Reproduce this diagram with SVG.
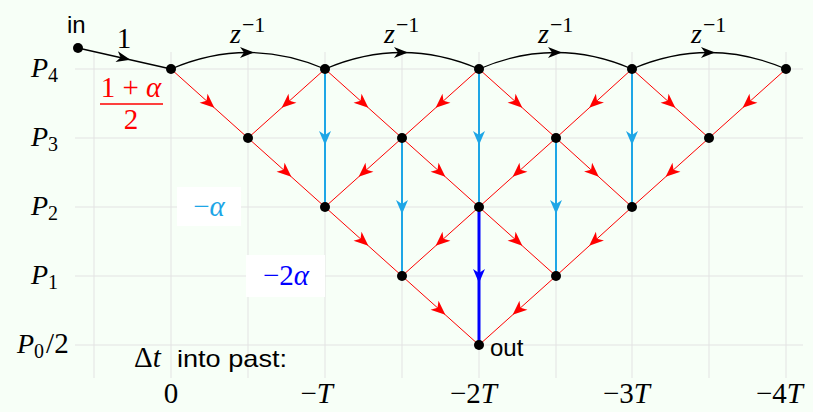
<svg xmlns="http://www.w3.org/2000/svg" width="813" height="412" viewBox="0 0 813 412">
<style>
.grid line{stroke:#e3e3e3;stroke-width:1}
.red{stroke:#ff0000;stroke-width:1;fill:none;marker-mid:url(#ar)}
.cy{stroke:#1ea6e6;stroke-width:2;fill:none;marker-mid:url(#ac)}
.bl{stroke:#0000ff;stroke-width:3;fill:none;marker-mid:url(#ab)}
.bk{stroke:#000;stroke-width:1.3;fill:none;marker-mid:url(#ak)}
.m{font-family:"Liberation Serif","DejaVu Serif",serif;font-size:28px;font-style:italic}
.n{font-family:"Liberation Serif","DejaVu Serif",serif;font-size:29px}
.s{font-family:"Liberation Sans",Arial,sans-serif;font-size:24px}
.sub{font-family:"Liberation Serif","DejaVu Serif",serif;font-style:normal;font-size:20px}
.sup{font-family:"Liberation Serif","DejaVu Serif",serif;font-style:normal;font-size:22px}
.dot{fill:#000}
</style>
<defs>
<marker id="ar" viewBox="-15 -8 25 16" markerWidth="25" markerHeight="16" refX="0" refY="0" orient="auto" markerUnits="userSpaceOnUse"><path d="M6.5,0 L-8,-6 L-4,0 L-8,6 Z" fill="#ff0000"/></marker>
<marker id="ac" viewBox="-15 -8 25 16" markerWidth="25" markerHeight="16" refX="0" refY="0" orient="auto" markerUnits="userSpaceOnUse"><path d="M7,0 L-7,-6 L-3,0 L-7,6 Z" fill="#1ea6e6"/></marker>
<marker id="ab" viewBox="-15 -8 25 16" markerWidth="25" markerHeight="16" refX="0" refY="0" orient="auto" markerUnits="userSpaceOnUse"><path d="M7,0 L-7,-6 L-3,0 L-7,6 Z" fill="#0000ff"/></marker>
<marker id="ak" viewBox="-15 -8 25 16" markerWidth="25" markerHeight="16" refX="0" refY="0" orient="auto" markerUnits="userSpaceOnUse"><path d="M6,0 L-8,-5.5 L-4,0 L-8,5.5 Z" fill="#000"/></marker>
</defs>
<rect width="813" height="412" fill="#f7fff7"/>
<g class="grid">
<line x1="75" y1="69" x2="803" y2="69"/>
<line x1="75" y1="138" x2="803" y2="138"/>
<line x1="75" y1="207" x2="803" y2="207"/>
<line x1="75" y1="276" x2="803" y2="276"/>
<line x1="75" y1="345" x2="803" y2="345"/>
<line x1="94" y1="52" x2="94" y2="378"/>
<line x1="171" y1="52" x2="171" y2="378"/>
<line x1="248" y1="52" x2="248" y2="378"/>
<line x1="325" y1="52" x2="325" y2="378"/>
<line x1="402" y1="52" x2="402" y2="378"/>
<line x1="479" y1="52" x2="479" y2="378"/>
<line x1="556" y1="52" x2="556" y2="378"/>
<line x1="632" y1="52" x2="632" y2="378"/>
<line x1="709" y1="52" x2="709" y2="378"/>
<line x1="786" y1="52" x2="786" y2="378"/>
</g>
<g id="labels-gain">
<rect x="177" y="187" width="64" height="39" fill="#fff"/>
<text x="209" y="216" class="n" fill="#1ea6e6" text-anchor="middle">−<tspan font-style="italic">α</tspan></text>
<rect x="246" y="255" width="79" height="42" fill="#fff"/>
<text x="286" y="285" class="n" fill="#0000ff" text-anchor="middle">−2<tspan font-style="italic">α</tspan></text>
<text x="131" y="97" class="n" fill="#ff0000" text-anchor="middle">1 + <tspan font-style="italic">α</tspan></text>
<line x1="100" y1="104" x2="163" y2="104" stroke="#ff0000" stroke-width="1.3"/>
<text x="131" y="129" class="n" fill="#ff0000" text-anchor="middle">2</text>
</g>
<g id="connectors">
<path class="bk" d="M78,48 L124.5,58.5 L171,69"/>
<path class="bk" d="M171,69 Q209.5,52.5 248,52.5 Q286.5,52.5 325,69"/>
<path class="bk" d="M325,69 Q363.5,52.5 402,52.5 Q440.5,52.5 479,69"/>
<path class="bk" d="M479,69 Q517.5,52.5 556,52.5 Q594,52.5 632,69"/>
<path class="bk" d="M632,69 Q670.5,52.5 709,52.5 Q747.5,52.5 786,69"/>
<path class="red" d="M171,69 L209.5,103.5 L248,138"/>
<path class="red" d="M325,69 L286.5,103.5 L248,138"/>
<path class="red" d="M325,69 L363.5,103.5 L402,138"/>
<path class="red" d="M479,69 L440.5,103.5 L402,138"/>
<path class="red" d="M479,69 L517.5,103.5 L556,138"/>
<path class="red" d="M632,69 L594,103.5 L556,138"/>
<path class="red" d="M632,69 L670.5,103.5 L709,138"/>
<path class="red" d="M786,69 L747.5,103.5 L709,138"/>
<path class="red" d="M248,138 L286.5,172.5 L325,207"/>
<path class="red" d="M402,138 L363.5,172.5 L325,207"/>
<path class="red" d="M402,138 L440.5,172.5 L479,207"/>
<path class="red" d="M556,138 L517.5,172.5 L479,207"/>
<path class="red" d="M556,138 L594,172.5 L632,207"/>
<path class="red" d="M709,138 L670.5,172.5 L632,207"/>
<path class="red" d="M325,207 L363.5,241.5 L402,276"/>
<path class="red" d="M479,207 L440.5,241.5 L402,276"/>
<path class="red" d="M479,207 L517.5,241.5 L556,276"/>
<path class="red" d="M632,207 L594,241.5 L556,276"/>
<path class="red" d="M402,276 L440.5,310.5 L479,345"/>
<path class="red" d="M556,276 L517.5,310.5 L479,345"/>
<path class="cy" d="M325,69 L325,138 L325,207"/>
<path class="cy" d="M479,69 L479,138 L479,207"/>
<path class="cy" d="M632,69 L632,138 L632,207"/>
<path class="cy" d="M402,138 L402,207 L402,276"/>
<path class="cy" d="M556,138 L556,207 L556,276"/>
<path class="bl" d="M479,207 L479,276 L479,345"/>
</g>
<g id="node-in"><circle class="dot" cx="78" cy="48" r="5"/><text x="67" y="33" class="s">in</text></g>
<g id="node-4-0"><circle class="dot" cx="171" cy="69" r="5"/></g>
<g id="node-4-1"><circle class="dot" cx="325" cy="69" r="5"/></g>
<g id="node-4-2"><circle class="dot" cx="479" cy="69" r="5"/></g>
<g id="node-4-3"><circle class="dot" cx="632" cy="69" r="5"/></g>
<g id="node-4-4"><circle class="dot" cx="786" cy="69" r="5"/></g>
<g id="node-3-0"><circle class="dot" cx="248" cy="138" r="5"/></g>
<g id="node-3-1"><circle class="dot" cx="402" cy="138" r="5"/></g>
<g id="node-3-2"><circle class="dot" cx="556" cy="138" r="5"/></g>
<g id="node-3-3"><circle class="dot" cx="709" cy="138" r="5"/></g>
<g id="node-2-0"><circle class="dot" cx="325" cy="207" r="5"/></g>
<g id="node-2-1"><circle class="dot" cx="479" cy="207" r="5"/></g>
<g id="node-2-2"><circle class="dot" cx="632" cy="207" r="5"/></g>
<g id="node-1-0"><circle class="dot" cx="402" cy="276" r="5"/></g>
<g id="node-1-1"><circle class="dot" cx="556" cy="276" r="5"/></g>
<g id="node-out"><circle class="dot" cx="479" cy="345" r="5"/><text x="490" y="356" class="s">out</text></g>
<g id="edge-labels">
<text x="124" y="48" class="n" text-anchor="middle">1</text>
<text x="230" y="43" class="m">z<tspan class="sup" dx="1" dy="-11">−1</tspan></text>
<text x="384" y="43" class="m">z<tspan class="sup" dx="1" dy="-11">−1</tspan></text>
<text x="538" y="43" class="m">z<tspan class="sup" dx="1" dy="-11">−1</tspan></text>
<text x="691" y="43" class="m">z<tspan class="sup" dx="1" dy="-11">−1</tspan></text>
</g>
<g id="row-labels">
<text x="31" y="77" class="m">P<tspan class="sub" dy="5">4</tspan></text>
<text x="31" y="146" class="m">P<tspan class="sub" dy="5">3</tspan></text>
<text x="31" y="215" class="m">P<tspan class="sub" dy="5">2</tspan></text>
<text x="31" y="284" class="m">P<tspan class="sub" dy="5">1</tspan></text>
<text x="17" y="353" class="m">P<tspan class="sub" dy="5">0</tspan><tspan class="n" font-style="normal" dx="2" dy="-5">/2</tspan></text>
</g>
<g id="axis-labels">
<text x="134" y="367" class="n">Δ<tspan font-style="italic">t</tspan></text>
<text x="177" y="367" class="s" font-size="26" textLength="110" lengthAdjust="spacingAndGlyphs">into past:</text>
<text x="171" y="403" class="n" text-anchor="middle">0</text>
<text x="333" y="403" class="n" text-anchor="end">−<tspan font-style="italic">T</tspan></text>
<text x="497" y="403" class="n" text-anchor="end">−2<tspan font-style="italic">T</tspan></text>
<text x="650" y="403" class="n" text-anchor="end">−3<tspan font-style="italic">T</tspan></text>
<text x="803" y="403" class="n" text-anchor="end">−4<tspan font-style="italic">T</tspan></text>
</g>
</svg>
